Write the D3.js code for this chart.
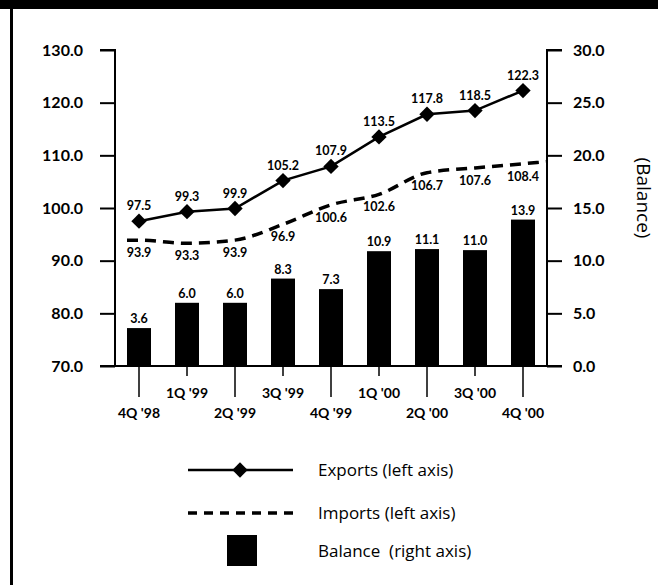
<!DOCTYPE html>
<html><head><meta charset="utf-8">
<script src="https://cdn.jsdelivr.net/npm/d3@7"></script>
<style>
html,body{margin:0;padding:0;background:#fff;}
svg{display:block;font-family:Lato, "Liberation Sans", sans-serif;}
</style></head>
<body>
<svg id="c" width="658" height="585"></svg>
<script>
const categories = ["4Q '98","1Q '99","2Q '99","3Q '99","4Q '99","1Q '00","2Q '00","3Q '00","4Q '00"];
const exportsVals = [97.5, 99.3, 99.9, 105.2, 107.9, 113.5, 117.8, 118.5, 122.3];
const importsVals = [93.9, 93.3, 93.9, 96.9, 100.6, 102.6, 106.7, 107.6, 108.4];
const balanceVals = [3.6, 6.0, 6.0, 8.3, 7.3, 10.9, 11.1, 11.0, 13.9];
const leftTicks = [70, 80, 90, 100, 110, 120, 130];
const rightTicks = [0, 5, 10, 15, 20, 25, 30];

const svg = d3.select("#c");
const L = 115, R = 547, T = 50, B = 366;

// frame
svg.append("rect").attr("x",0).attr("y",0).attr("width",658).attr("height",9).attr("fill","#000");
svg.append("rect").attr("x",10).attr("y",0).attr("width",3).attr("height",585).attr("fill","#000");

const x = d3.scaleBand().domain(categories).range([L, R]).paddingInner(0.5).paddingOuter(0.25);
const xc = d => x(d) + x.bandwidth()/2;
const yL = d3.scaleLinear().domain([70,130]).range([B, T]);
const yR = d3.scaleLinear().domain([0,30]).range([B, T]);

// bars
svg.selectAll("rect.bar").data(balanceVals).enter().append("rect")
  .attr("class","bar")
  .attr("x",(d,i)=>x(categories[i]))
  .attr("width",x.bandwidth())
  .attr("y",d=>yR(d))
  .attr("height",d=>yR(0)-yR(d))
  .attr("fill","#000");
svg.selectAll("text.bl").data(balanceVals).enter().append("text")
  .attr("x",(d,i)=>xc(categories[i]))
  .attr("y",d=>yR(d)-5)
  .attr("text-anchor","middle").attr("font-size",12.5).attr("font-weight",700)
  .text(d=>d.toFixed(1));

// left axis
const gl = svg.append("g").attr("transform",`translate(${L},0)`)
  .call(d3.axisLeft(yL).tickValues(leftTicks).tickSize(15).tickPadding(17).tickFormat(d3.format(".1f")));
gl.select(".domain").attr("stroke-width",2).attr("d",`M-15,${T}H0V${B}`);
gl.selectAll(".tick line").attr("stroke-width",2);
gl.selectAll(".tick text").attr("font-size",16).attr("font-weight",700).attr("font-family","Lato").attr("fill","#000");

// right axis
const gr = svg.append("g").attr("transform",`translate(${R},0)`)
  .call(d3.axisRight(yR).tickValues(rightTicks).tickSize(15).tickPadding(11).tickFormat(d3.format(".1f")));
gr.select(".domain").attr("stroke-width",2).attr("d",`M15,${T}H0V${B}`);
gr.selectAll(".tick line").attr("stroke-width",2);
gr.selectAll(".tick text").attr("font-size",16).attr("font-weight",700).attr("font-family","Lato").attr("fill","#000");

// baseline
svg.append("line").attr("x1",L-15).attr("x2",R+15).attr("y1",B).attr("y2",B).attr("stroke","#000").attr("stroke-width",2);

// category ticks and labels
categories.forEach((c,i)=>{
  const long = i%2===0;
  svg.append("line").attr("x1",xc(c)).attr("x2",xc(c)).attr("y1",B).attr("y2",B+(long?31:10))
    .attr("stroke","#000").attr("stroke-width",1.5);
  svg.append("text").attr("x",xc(c)).attr("y",B+(long?52:32))
    .attr("text-anchor","middle").attr("font-size",14).attr("font-weight",700).text(c);
});

// imports dashed line
const impPts = importsVals.map((v,i)=>[xc(categories[i]), yL(v)]);
const n = impPts.length;
const slope = (impPts[n-1][1]-impPts[n-2][1])/(impPts[n-1][0]-impPts[n-2][0]);
const ext = [[impPts[0][0]-x.bandwidth()/2, impPts[0][1]], ...impPts, [R, impPts[n-1][1] + slope*(R-impPts[n-1][0])]];
svg.append("path").attr("d", d3.line().curve(d3.curveMonotoneX)(ext))
  .attr("fill","none").attr("stroke","#000").attr("stroke-width",3.5).attr("stroke-dasharray","11,7");
svg.selectAll("text.il").data(importsVals).enter().append("text")
  .attr("x",(d,i)=>xc(categories[i]))
  .attr("y",d=>yL(d)+17)
  .attr("text-anchor","middle").attr("font-size",12.5).attr("font-weight",700)
  .text(d=>d.toFixed(1));

// exports solid line
svg.append("path").datum(exportsVals)
  .attr("d", d3.line().x((d,i)=>xc(categories[i])).y(d=>yL(d)))
  .attr("fill","none").attr("stroke","#000").attr("stroke-width",2.5);
const diamond = d3.symbol().type(d3.symbolDiamond2).size(150);
svg.selectAll("path.mk").data(exportsVals).enter().append("path")
  .attr("transform",(d,i)=>`translate(${xc(categories[i])},${yL(d)})`)
  .attr("d",diamond()).attr("fill","#000");
svg.selectAll("text.el").data(exportsVals).enter().append("text")
  .attr("x",(d,i)=>xc(categories[i]))
  .attr("y",d=>yL(d)-11)
  .attr("text-anchor","middle").attr("font-size",12.5).attr("font-weight",700)
  .text(d=>d.toFixed(1));

// right axis title
svg.append("text").attr("transform","translate(637,198) rotate(90)")
  .attr("text-anchor","middle").attr("font-size",19).attr("font-family","Open Sans").text("(Balance)");

// legend
const lg = svg.append("g");
lg.append("line").attr("x1",188).attr("x2",293).attr("y1",470).attr("y2",470).attr("stroke","#000").attr("stroke-width",2.5);
lg.append("path").attr("transform","translate(240,470)").attr("d",diamond()).attr("fill","#000");
lg.append("text").attr("x",318).attr("y",476).attr("font-size",17).attr("font-family","Open Sans").text("Exports (left axis)");
lg.append("line").attr("x1",188).attr("x2",293).attr("y1",513).attr("y2",513).attr("stroke","#000").attr("stroke-width",3.5).attr("stroke-dasharray","9,7");
lg.append("text").attr("x",318).attr("y",519).attr("font-size",17).attr("font-family","Open Sans").text("Imports (left axis)");
lg.append("rect").attr("x",227).attr("y",535).attr("width",30).attr("height",31).attr("fill","#000");
lg.append("text").attr("x",318).attr("y",557).attr("font-size",17).attr("font-family","Open Sans").attr("xml:space","preserve").text("Balance  (right axis)");
</script>
</body></html>
